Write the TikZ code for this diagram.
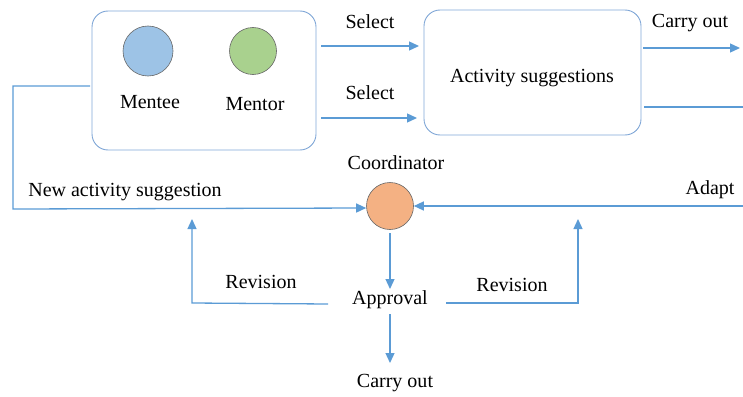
\documentclass[tikz,border=0pt]{standalone}
\usepackage{fontspec}
\setmainfont{Liberation Serif}
\newfontfamily\labelfont{Liberation Serif}
\usetikzlibrary{arrows.meta}
\definecolor{flow}{HTML}{5B9BD5}
\definecolor{frame}{HTML}{7FA6D6}
\definecolor{menteefill}{HTML}{9DC3E6}
\definecolor{mentorfill}{HTML}{A9D18E}
\definecolor{coordfill}{HTML}{F4B183}
\tikzset{
  lbl/.style={font=\labelfont\fontsize{20}{23}\selectfont, inner sep=0pt},
  panel/.style={draw=frame, line width=0.9pt, rounded corners=16pt},
  person/.style={circle, draw=gray!80!black, line width=0.6pt, inner sep=0pt},
  link/.style={draw=flow, line width=1.3pt},
  flowarrow/.style={link, -{Triangle[length=10pt,width=9pt]}},
}
\begin{document}
\begin{tikzpicture}[x=1pt,y=-1pt]
\useasboundingbox (0,0) rectangle (743,396);

% participant group
\draw[panel] (92,11) rectangle (316,150);
\node[person, fill=menteefill, minimum size=50pt] (mentee) at (148,51) {};
\node[person, fill=mentorfill, minimum size=47pt] (mentor) at (253,51) {};
\node[lbl] (menteetxt) at (150,102) {Mentee};
\node[lbl] (mentortxt) at (255,104) {Mentor};
\coordinate (grpL) at (90,86);
\coordinate (grpR1) at (321,46);
\coordinate (grpR2) at (321,118);

% suggestion pool
\draw[panel] (424,10) rectangle (641,135);
\node[lbl] (acts) at (532,78) {Activity suggestions};
\coordinate (actL1) at (419,46);
\coordinate (actL2) at (417,118);
\coordinate (actR1) at (643,48);
\coordinate (actR2) at (644,107);
\coordinate (outR1) at (740,48);
\coordinate (outR2) at (743,107);

% coordinator
\node[person, fill=coordfill, minimum size=47pt] (coord) at (390,206) {};
\node[lbl] (coordtxt) at (396,163) {Coordinator};
\coordinate (adaptR) at (743,206);

% approval chain
\node[lbl] (approval) at (390,300) {Approval};
\node[lbl] (done) at (395,383) {Carry out};

% labels
\node[lbl] (sel1) at (370,22) {Select};
\node[lbl] (sel2) at (370,93) {Select};
\node[lbl] (carry1) at (690,23) {Carry out};
\node[lbl] (newsug) at (125,192) {New activity suggestion};
\node[lbl] (adapt) at (710,190) {Adapt};
\node[lbl] (rev1) at (261,282) {Revision};
\node[lbl] (rev2) at (512,285) {Revision};

% connectors
\draw[flowarrow] (grpR1) -- (actL1);
\draw[flowarrow] (grpR2) -- (actL2);
\draw[flowarrow] (actR1) -- (outR1);
\draw[link] (actR2) -- (outR2);
\draw[flowarrow] (grpL) -- (13,86) -- (13,209) -- (coord.west |- 0,208);
\draw[flowarrow] (adaptR) -- (coord.east);
\draw[flowarrow] (coord.south |- 0,233) -- (390,289);
\draw[flowarrow] (390,314) -- (390,363);
\draw[flowarrow] (328,304) -- (192,303) -- (192,219);
\draw[flowarrow] (446,303) -- (578,303) -- (578,219);
\end{tikzpicture}
\end{document}
